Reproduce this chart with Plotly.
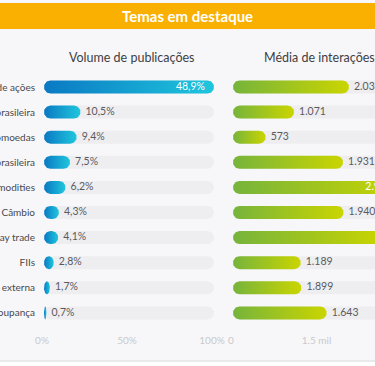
import numpy as np
import plotly.graph_objects as go

# ---------------- data ----------------
categories = ["Mercado de ações", "Economia brasileira", "Criptomoedas", "Política brasileira",
              "Commodities", "Câmbio", "Operações day trade", "FIIs", "Economia externa", "Poupança"]
volume_pct = [48.9, 10.5, 9.4, 7.5, 6.2, 4.3, 4.1, 2.8, 1.7, 0.7]
volume_labels = ["48,9%", "10,5%", "9,4%", "7,5%", "6,2%", "4,3%", "4,1%", "2,8%", "1,7%", "0,7%"]
interaction_values = [2035, 1071, 573, 1931, 2950, 1940, 2650, 1189, 1200, 1643]
interaction_labels = ["2.035", "1.071", "573", "1.931", "2.950", "1.940", "2.650", "1.189", "1.899", "1.643"]
volume_tickvals = [0, 50, 100]
volume_ticktext = ["0%", "50%", "100%"]
interaction_tickvals = [0, 1500, 3000]
interaction_ticktext = ["0", "1.5 mil", "3 mil"]

title_text = "Temas em destaque"
left_title = "Volume de publicações"
right_title = "Média de interações"

# ---------------- geometry / style ----------------
W, H = 375, 366
FONT = "Lato"
BG = "#f7f7f9"
TRACK = "#eeeef1"
BLUE = [[0, "#0a79c3"], [1, "#1fc6dd"]]
GREEN = [[0, "#76b43c"], [1, "#cad500"]]

L_X0, L_X1 = 44, 214          # px of left panel
R_X0, R_X1 = 233, 375         # px of right panel (truncated at page edge)
ROW_TOP, ROW_STEP = 87, 25.1  # px centre of first row and spacing
BAR_H = 13                    # px bar thickness
R_PX_PER_UNIT = 0.057

n = len(categories)
vmax = max(volume_pct)
vol_norm = [v / vmax * 100 for v in volume_pct]
l_range = [0, 100]
r_range = [0, (R_X1 - R_X0) / R_PX_PER_UNIT]
l_ppu = (L_X1 - L_X0) / (l_range[1] - l_range[0])
r_ppu = R_PX_PER_UNIT

y_top_px = ROW_TOP - ROW_STEP / 2
y_bot_px = ROW_TOP + ROW_STEP * (n - 1) + ROW_STEP / 2
y_dom = [1 - y_bot_px / H, 1 - y_top_px / H]
hy = (BAR_H / 2) / ROW_STEP


def pill(length, yc, rx_units):
    rx = min(rx_units, length / 2)
    t1 = np.linspace(np.pi / 2, 3 * np.pi / 2, 25)
    t2 = np.linspace(-np.pi / 2, np.pi / 2, 25)
    xs = np.concatenate([rx + rx * np.cos(t1), length - rx + rx * np.cos(t2)])
    ys = np.concatenate([yc + hy * np.sin(t1), yc + hy * np.sin(t2)])
    return list(xs) + [xs[0]], list(ys) + [ys[0]]


fig = go.Figure()

panels = [
    ("x", "y", vol_norm, volume_labels, 100, l_ppu, BLUE),
    ("x2", "y2", interaction_values, interaction_labels, max(interaction_values), r_ppu, GREEN),
]
for xa, ya, vals, labels, full, ppu, cs in panels:
    rx_units = (BAR_H / 2) / ppu
    imax = int(np.argmax(vals))
    for i, v in enumerate(vals):
        tx, ty = pill(full, i, rx_units)
        fig.add_trace(go.Scatter(x=tx, y=ty, xaxis=xa, yaxis=ya, mode="lines", fill="toself",
                                 fillcolor=TRACK, line=dict(width=0, color="rgba(0,0,0,0)"),
                                 hoverinfo="skip", showlegend=False))
    for i, v in enumerate(vals):
        bx, by = pill(v, i, rx_units)
        fig.add_trace(go.Scatter(x=bx, y=by, xaxis=xa, yaxis=ya, mode="lines", fill="toself",
                                 fillgradient=dict(type="horizontal", colorscale=cs),
                                 line=dict(width=0, color="rgba(0,0,0,0)"),
                                 hoverinfo="skip", showlegend=False))
    # value labels
    out_x = [v + 5 / ppu for i, v in enumerate(vals) if i != imax]
    out_y = [i for i, v in enumerate(vals) if i != imax]
    out_t = [labels[i] for i, v in enumerate(vals) if i != imax]
    fig.add_trace(go.Scatter(x=out_x, y=out_y, xaxis=xa, yaxis=ya, mode="text", text=out_t,
                             textposition="middle right", cliponaxis=True,
                             textfont=dict(family=FONT, size=10.5, color="#5a5a5e"),
                             hoverinfo="skip", showlegend=False))
    fig.add_trace(go.Scatter(x=[vals[imax] - 9 / ppu], y=[imax], xaxis=xa, yaxis=ya, mode="text",
                             text=[labels[imax]], textposition="middle left", cliponaxis=True,
                             textfont=dict(family=FONT, size=10.5, color="#ffffff"),
                             hoverinfo="skip", showlegend=False))

axis_common = dict(showgrid=False, zeroline=False, showline=False, ticks="", automargin=False,
                   tickfont=dict(family=FONT, size=10, color="#c9c9cd"), fixedrange=True)
fig.update_layout(
    width=W, height=H,
    margin=dict(l=0, r=0, t=0, b=0, pad=0),
    paper_bgcolor=BG, plot_bgcolor="rgba(0,0,0,0)",
    xaxis=dict(domain=[L_X0 / W, L_X1 / W], range=l_range, anchor="y",
               tickvals=volume_tickvals, ticktext=volume_ticktext, ticklabelstandoff=8,
               ticklabelshift=-2, **axis_common),
    xaxis2=dict(domain=[R_X0 / W, R_X1 / W], range=r_range, anchor="y2",
                tickvals=interaction_tickvals, ticktext=interaction_ticktext, ticklabelstandoff=8,
                ticklabelshift=-2, **axis_common),
    yaxis=dict(domain=y_dom, range=[n - 0.5, -0.5], anchor="x", tickvals=list(range(n)),
               ticktext=categories, ticklabelstandoff=8, showgrid=False, zeroline=False,
               showline=False, ticks="", fixedrange=True, automargin=False,
               tickfont=dict(family=FONT, size=10, color="#48484c")),
    yaxis2=dict(domain=y_dom, range=[n - 0.5, -0.5], anchor="x2", showticklabels=False,
                showgrid=False, zeroline=False, showline=False, ticks="", fixedrange=True,
                automargin=False),
    shapes=[
        dict(type="rect", xref="paper", yref="paper", x0=0, x1=1, y0=1 - 29 / H, y1=1 - 3 / H,
             fillcolor="#fab000", line=dict(width=0), layer="below"),
        dict(type="rect", xref="paper", yref="paper", x0=0, x1=1, y0=0, y1=1 - 361 / H,
             fillcolor="#ffffff", line=dict(width=0), layer="below"),
        dict(type="line", xref="paper", yref="paper", x0=0, x1=1, y0=1 - 361 / H, y1=1 - 361 / H,
             line=dict(color="#e4e4e7", width=1.5), layer="below"),
    ],
    annotations=[
        dict(text=f"<b>{title_text}</b>", xref="paper", yref="paper", x=0.5, y=1 - 16 / H,
             showarrow=False, font=dict(family=FONT, size=15, color="#ffffff"),
             xanchor="center", yanchor="middle"),
        dict(text=left_title, xref="paper", yref="paper", x=131 / W, y=1 - 57 / H,
             showarrow=False, font=dict(family=FONT, size=12.5, color="#404044"),
             xanchor="center", yanchor="middle"),
        dict(text=right_title, xref="paper", yref="paper", x=319 / W, y=1 - 57 / H,
             showarrow=False, font=dict(family=FONT, size=12.5, color="#404044"),
             xanchor="center", yanchor="middle"),
    ],
)

fig.write_html("out.html", config={"displayModeBar": False},
               post_script="document.body.style.margin='0';document.body.style.overflow='hidden';")
